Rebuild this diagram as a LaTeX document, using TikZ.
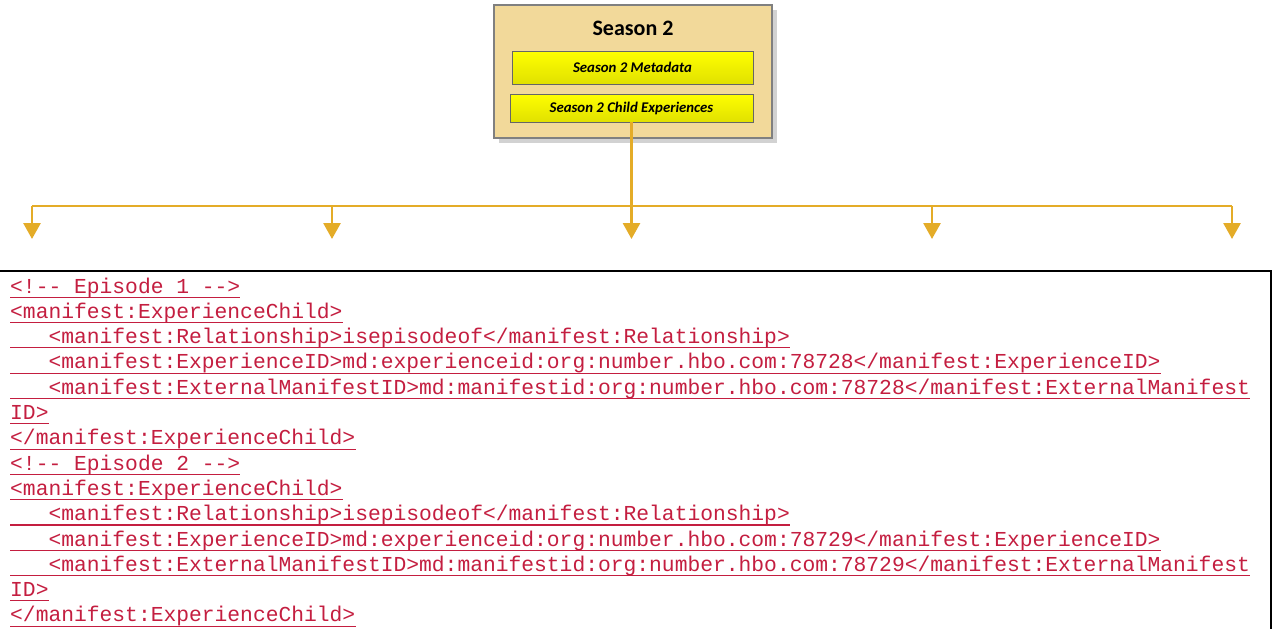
\documentclass[tikz,border=0pt]{standalone}
\usepackage{fontspec}
\setmainfont{Carlito}
\newfontfamily\codefont{Liberation Mono}
\usetikzlibrary{arrows.meta,calc,shadows}
\definecolor{gold}{RGB}{228,172,40}
\definecolor{tan}{RGB}{242,217,154}
\definecolor{codered}{RGB}{196,30,64}
\definecolor{boxgray}{RGB}{128,128,128}
\tikzset{
  outerbox/.style={draw=boxgray,line width=1.2pt,fill=tan,minimum width=278pt,minimum height=133pt,inner sep=0pt},
  innerbox/.style={draw=boxgray!80!black,line width=0.8pt,top color=yellow,bottom color=yellow!88!black,inner sep=0pt,font=\fontsize{14.8}{16}\selectfont\bfseries\itshape},
  conn/.style={draw=gold,line width=2.8pt},
  arr/.style={conn,-{Triangle[width=17pt,length=16pt]}},
  codeline/.style={anchor=base west,inner sep=0pt,text=codered,font=\codefont\fontsize{21.3}{25}\selectfont},
  uline/.style={draw=codered,line width=1.1pt},
}
\begin{document}
\begin{tikzpicture}[x=1pt,y=-1pt]
\useasboundingbox (0,0) rectangle (1274,629);
\fill[white] (0,0) rectangle (1274,629);
% top box with shadow
\fill[gray!35] (499,10) rectangle (777,143);
\node[outerbox] (season) at (633,71.5) {};
\node[font=\fontsize{22}{26}\selectfont\bfseries] (title) at (633,28) {Season 2};
\node[innerbox,minimum width=241pt,minimum height=33pt] (meta) at (632.5,67.5) {Season 2 Metadata};
\node[innerbox,minimum width=243pt,minimum height=28pt] (child) at (631.5,108) {Season 2 Child Experiences};
% connectors
\coordinate (hub) at (631.5,206);
\coordinate (b1) at (32,206);
\coordinate (b2) at (332,206);
\coordinate (b4) at (932,206);
\coordinate (b5) at (1232,206);
\coordinate (t1) at (32,239);
\coordinate (t2) at (332,239);
\coordinate (t3) at (631.5,239);
\coordinate (t4) at (932,239);
\coordinate (t5) at (1232,239);
\draw[conn] (child.south) -- (hub);
\draw[conn] (b1) -- (b5);
\draw[arr] (b1) -- (t1);
\draw[arr] (b2) -- (t2);
\draw[arr] (hub) -- (t3);
\draw[arr] (b4) -- (t4);
\draw[arr] (b5) -- (t5);
% code box
\coordinate (cbl) at (0,271);
\coordinate (cbr) at (1271,271);
\coordinate (cbb) at (1271,629);
\draw[line width=2.8pt] (cbl) -- (cbr) -- (cbb);
% code lines
\def\sp{\ \ \ }
\node[codeline] (c1) at (10,293.0) {<!{-}{-} Episode 1 {-}{-}>};
\node[codeline] (c2) at (10,318.3) {<manifest:ExperienceChild>};
\node[codeline] (c3) at (10,343.6) {\sp<manifest:Relationship>isepisodeof</manifest:Relationship>};
\node[codeline] (c4) at (10,368.9) {\sp<manifest:ExperienceID>md:experienceid:org:number.hbo.com:78728</manifest:ExperienceID>};
\node[codeline] (c5) at (10,394.2) {\sp<manifest:ExternalManifestID>md:manifestid:org:number.hbo.com:78728</manifest:ExternalManifest};
\node[codeline] (c6) at (10,419.5) {ID>};
\node[codeline] (c7) at (10,444.8) {</manifest:ExperienceChild>};
\node[codeline] (c8) at (10,470.1) {<!{-}{-} Episode 2 {-}{-}>};
\node[codeline] (c9) at (10,495.4) {<manifest:ExperienceChild>};
\node[codeline] (c10) at (10,520.7) {\sp<manifest:Relationship>isepisodeof</manifest:Relationship>};
\node[codeline] (c11) at (10,546.0) {\sp<manifest:ExperienceID>md:experienceid:org:number.hbo.com:78729</manifest:ExperienceID>};
\node[codeline] (c12) at (10,571.3) {\sp<manifest:ExternalManifestID>md:manifestid:org:number.hbo.com:78729</manifest:ExternalManifest};
\node[codeline] (c13) at (10,596.6) {ID>};
\node[codeline] (c14) at (10,621.9) {</manifest:ExperienceChild>};
\foreach \i in {1,...,14}{
  \draw[uline] ([yshift=-4.3pt]c\i.base west) -- ([yshift=-4.3pt]c\i.base east);
}
\end{tikzpicture}
\end{document}
